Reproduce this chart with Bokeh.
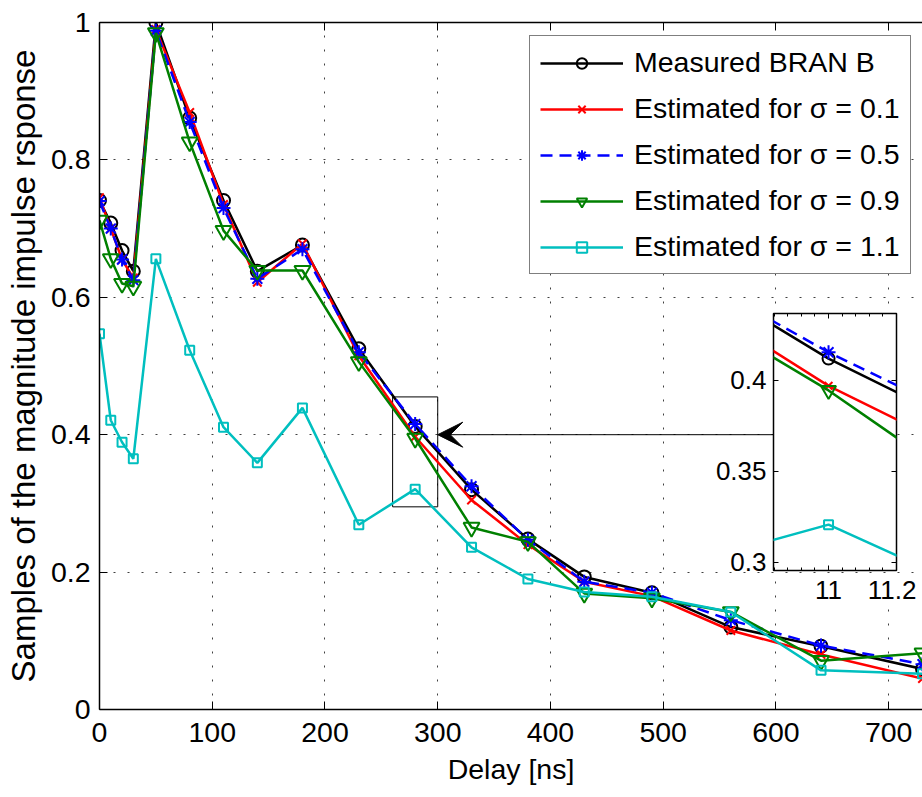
from bokeh.plotting import figure
from bokeh.models import (Range1d, FixedTicker, LinearAxis, Legend, LegendItem,
                          Arrow, VeeHead)
from bokeh.embed import file_html
from bokeh.resources import INLINE

# ---------------- data ----------------
delay_ns = [0, 10, 20, 30, 50, 80, 110, 140, 180, 230, 280, 330, 380, 430, 490, 560, 640, 730]
sample_index = [1, 2, 3, 4, 5, 6, 7, 8, 9, 10, 11, 12, 13, 14, 15, 16, 17, 18]

measured = [0.741, 0.708, 0.668, 0.638, 1.000, 0.861, 0.741, 0.638, 0.676, 0.525,
            0.412, 0.320, 0.248, 0.193, 0.170, 0.120, 0.092, 0.059]
est_s01 = [0.745, 0.700, 0.655, 0.628, 0.990, 0.869, 0.735, 0.622, 0.678, 0.515,
           0.397, 0.305, 0.240, 0.186, 0.165, 0.115, 0.080, 0.045]
est_s05 = [0.740, 0.700, 0.655, 0.625, 0.988, 0.855, 0.730, 0.627, 0.670, 0.520,
           0.4155, 0.325, 0.247, 0.186, 0.170, 0.130, 0.093, 0.066]
est_s09 = [0.712, 0.656, 0.620, 0.616, 0.985, 0.826, 0.697, 0.639, 0.639, 0.506,
           0.3945, 0.265, 0.244, 0.169, 0.162, 0.142, 0.071, 0.082]
est_s11 = [0.547, 0.421, 0.389, 0.365, 0.656, 0.523, 0.411, 0.359, 0.439, 0.269,
           0.3207, 0.236, 0.190, 0.171, 0.164, 0.142, 0.057, 0.052]

legend_labels = ["Measured BRAN B", "Estimated for \u03c3 = 0.1", "Estimated for \u03c3 = 0.5",
                 "Estimated for \u03c3 = 0.9", "Estimated for \u03c3 = 1.1"]

x_ticks = [0, 100, 200, 300, 400, 500, 600, 700]
y_ticks = [0.0, 0.2, 0.4, 0.6, 0.8, 1.0]
y_tick_labels = ["0", "0.2", "0.4", "0.6", "0.8", "1"]

inset_x_ticks = [11.0, 11.2]
inset_x_tick_labels = ["11", "11.2"]
inset_x_minor = [10.84, 10.88, 10.92, 10.96, 11.04, 11.08, 11.12, 11.16]
inset_y_ticks = [0.3, 0.35, 0.4]
inset_y_tick_labels = ["0.3", "0.35", "0.4"]

zoom_left, zoom_right, zoom_bottom, zoom_top = 260, 300, 0.295, 0.455
arrow_x_start, arrow_x_end, arrow_y = 610, 300, 0.4

FONT = "Liberation Sans"
TICK_FS = "28.5px"

series = [
    # values, color, marker, marker size, dash
    (measured, "#000000", "circle", 13, "solid"),
    (est_s01, "#ff0000", "x", 12, "solid"),
    (est_s05, "#0000ff", "asterisk", 14, "12 7"),
    (est_s09, "#008000", "inverted_triangle", 16, "solid"),
    (est_s11, "#00bfbf", "square", 9, "solid"),
]

# ---------------- main figure ----------------
p = figure(width=922, height=797, x_range=Range1d(0, 730), y_range=Range1d(0, 1),
           output_backend="svg", toolbar_location=None,
           min_border=0, min_border_left=99, min_border_right=0, min_border_top=22,
           min_border_bottom=88,
           background_fill_color="white", border_fill_color="white",
           outline_line_color=None)

p.xaxis.ticker = FixedTicker(ticks=x_ticks)
p.yaxis.ticker = FixedTicker(ticks=y_ticks)
p.yaxis.major_label_overrides = {t: s for t, s in zip(y_ticks, y_tick_labels)}

for ax in (p.xaxis[0], p.yaxis[0]):
    ax.axis_line_color = "black"
    ax.axis_line_width = 1.5
    ax.major_tick_in = 8
    ax.major_tick_out = 0
    ax.major_tick_line_color = "black"
    ax.minor_tick_line_color = None
    ax.major_label_text_font = FONT
    ax.major_label_text_font_size = TICK_FS
    ax.major_label_text_color = "black"
    ax.axis_label_text_font = FONT
    ax.axis_label_text_font_style = "normal"
    ax.axis_label_text_color = "black"

p.xaxis.major_label_standoff = 13
p.xaxis.axis_label = "Delay [ns]"
p.xaxis.axis_label_text_font_size = "28.5px"
p.xaxis.axis_label_standoff = 8
p.yaxis.major_label_standoff = 9
p.yaxis.axis_label = "Samples of the magnitude impulse rsponse"
p.yaxis.axis_label_text_font_size = "33px"
p.yaxis.axis_label_standoff = 6

top_axis = LinearAxis(ticker=FixedTicker(ticks=x_ticks), axis_line_color="black",
                      axis_line_width=1.5, major_tick_in=8, major_tick_out=0,
                      minor_tick_line_color=None, major_label_text_font_size="1px",
                      major_label_text_color=None, major_label_standoff=0)
p.add_layout(top_axis, "above")

p.xgrid.grid_line_color = "black"
p.xgrid.grid_line_alpha = 0.75
p.xgrid.grid_line_dash = "2 12"
p.ygrid.grid_line_color = "black"
p.ygrid.grid_line_alpha = 0.75
p.ygrid.grid_line_dash = "2 12"

# zoom box and arrow
p.quad(left=[zoom_left], right=[zoom_right], bottom=[zoom_bottom], top=[zoom_top],
       fill_color=None, line_color="black", line_width=1)
p.add_layout(Arrow(end=VeeHead(size=25, fill_color="black", line_color="black", line_width=1),
                   x_start=arrow_x_start, y_start=arrow_y, x_end=arrow_x_end, y_end=arrow_y,
                   line_color="black", line_width=1))

items = []
for (vals, col, mk, sz, dash), lab in zip(series, legend_labels):
    lr = p.line(delay_ns, vals, line_color=col, line_width=2.5, line_dash=dash)
    sr = p.scatter(delay_ns, vals, marker=mk, size=sz, line_color=col, fill_color=None,
                   line_width=2)
    items.append(LegendItem(label=lab, renderers=[lr, sr]))

legend = Legend(items=items, location=(430, 435),
                label_text_font=FONT, label_text_font_size=TICK_FS, label_text_color="black",
                glyph_width=83, glyph_height=26, label_height=32, label_standoff=11,
                spacing=13, padding=10, margin=0,
                border_line_color="black", border_line_width=1.2,
                background_fill_color="white", background_fill_alpha=1.0)
p.add_layout(legend)

# ---------------- inset figure ----------------
IN_LEFT, IN_TOP = 100, 10
q = figure(frame_width=123, frame_height=257,
           x_range=Range1d(10.838, 11.2), y_range=Range1d(0.2955, 0.4368),
           output_backend="svg", toolbar_location=None,
           min_border=0, min_border_left=IN_LEFT, min_border_right=20, min_border_top=IN_TOP,
           min_border_bottom=50,
           background_fill_color="white", border_fill_color=None,
           outline_line_color="black", outline_line_width=1.5)
q.grid.visible = False

q.xaxis.ticker = FixedTicker(ticks=inset_x_ticks, minor_ticks=inset_x_minor)
q.xaxis.major_label_overrides = {t: s for t, s in zip(inset_x_ticks, inset_x_tick_labels)}
q.yaxis.ticker = FixedTicker(ticks=inset_y_ticks)
q.yaxis.major_label_overrides = {t: s for t, s in zip(inset_y_ticks, inset_y_tick_labels)}
for ax in (q.xaxis[0], q.yaxis[0]):
    ax.axis_line_color = None
    ax.major_tick_in = 5
    ax.major_tick_out = 0
    ax.minor_tick_in = 3
    ax.minor_tick_out = 0
    ax.major_label_text_font = FONT
    ax.major_label_text_font_size = "26px"
    ax.major_label_text_color = "black"
q.yaxis.minor_tick_line_color = None
q.xaxis.major_label_standoff = 10
q.yaxis.major_label_standoff = 7

q.add_layout(LinearAxis(ticker=FixedTicker(ticks=inset_x_ticks, minor_ticks=inset_x_minor),
                        axis_line_color=None, major_tick_in=5, major_tick_out=0,
                        minor_tick_in=3, minor_tick_out=0,
                        major_label_text_font_size="1px", major_label_text_color=None,
                        major_label_standoff=0), "above")
q.add_layout(LinearAxis(ticker=FixedTicker(ticks=inset_y_ticks),
                        axis_line_color=None, major_tick_in=5, major_tick_out=0,
                        minor_tick_line_color=None,
                        major_label_text_font_size="1px", major_label_text_color=None,
                        major_label_standoff=0), "right")

inset_sizes = [12, 11, 14, 15, 9]
for (vals, col, mk, sz, dash), isz in zip(series, inset_sizes):
    q.line(sample_index, vals, line_color=col, line_width=2.5, line_dash=dash)
    q.scatter(sample_index, vals, marker=mk, size=isz, line_color=col, fill_color=None,
              line_width=2)

# inset frame target in the page: left 772.7 px, top 313 px
q.styles = {"position": "absolute", "left": f"{772.7 - IN_LEFT:.1f}px",
            "top": f"{313 - IN_TOP:.1f}px", "z-index": "10"}

open("out.html", "w").write(file_html([p, q], INLINE))
